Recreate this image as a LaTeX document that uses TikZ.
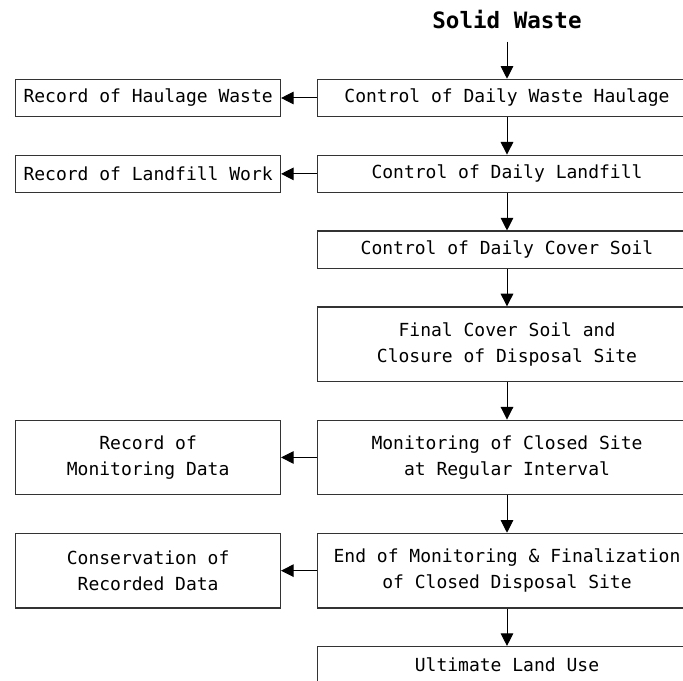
\documentclass[tikz,border=0pt]{standalone}
\usepackage{fontspec}
\setmonofont{DejaVu Sans Mono}
\usetikzlibrary{positioning,arrows.meta}

\begin{document}
\begin{tikzpicture}[
  x=0.75pt, y=-0.75pt,
  every node/.style={font=\ttfamily\fontsize{13.5}{19.5}\selectfont},
  stepbox/.style={
    draw=black!80, line width=0.9pt, inner sep=0pt,
    minimum width=284pt, minimum height=28pt, align=center,
  },
  recbox/.style={stepbox, minimum width=198.5pt},
  tall/.style={minimum height=56pt},
  arrow/.style={-{Triangle[length=9.5pt, width=9.5pt]}, line width=0.75pt},
]
  \path[use as bounding box, clip] (0,0) rectangle (683,681);

  % Main flow (right column)
  \node[stepbox] (haul) at (507,98) {Control of Daily Waste Haulage};
  \node[stepbox, below=28pt of haul] (fill) {Control of Daily Landfill};
  \node[stepbox, below=28pt of fill] (cover) {Control of Daily Cover Soil};
  \node[stepbox, tall, below=28pt of cover] (final) {Final Cover Soil and\\Closure of Disposal Site};
  \node[stepbox, tall, below=28pt of final] (monit) {Monitoring of Closed Site\\at Regular Interval};
  \node[stepbox, tall, below=28pt of monit] (endmon) {End of Monitoring \& Finalization\\of Closed Disposal Site};
  \node[stepbox, below=28pt of endmon] (landuse) {Ultimate Land Use};
  \node[font=\ttfamily\bfseries\fontsize{16.9}{20}\selectfont, inner xsep=0pt, inner ysep=9.75pt,
        above=0pt of haul.north, anchor=south, yshift=27.75pt] (waste) {Solid Waste};

  % Records (left column)
  \node[recbox, left=27pt of haul] (rhaul) {Record of Haulage Waste};
  \node[recbox, left=27pt of fill] (rfill) {Record of Landfill Work};
  \node[recbox, tall, left=27pt of monit] (rmonit) {Record of\\Monitoring Data};
  \node[recbox, tall, left=27pt of endmon] (rcons) {Conservation of\\Recorded Data};

  % down arrows
  \draw[arrow] (waste.south) -- (haul.north);
  \draw[arrow] (haul) -- (fill);
  \draw[arrow] (fill) -- (cover);
  \draw[arrow] (cover) -- (final);
  \draw[arrow] (final) -- (monit);
  \draw[arrow] (monit) -- (endmon);
  \draw[arrow] (endmon) -- (landuse);

  % side arrows
  \draw[arrow] (haul) -- (rhaul);
  \draw[arrow] (fill) -- (rfill);
  \draw[arrow] (monit) -- (rmonit);
  \draw[arrow] (endmon) -- (rcons);
\end{tikzpicture}
\end{document}
